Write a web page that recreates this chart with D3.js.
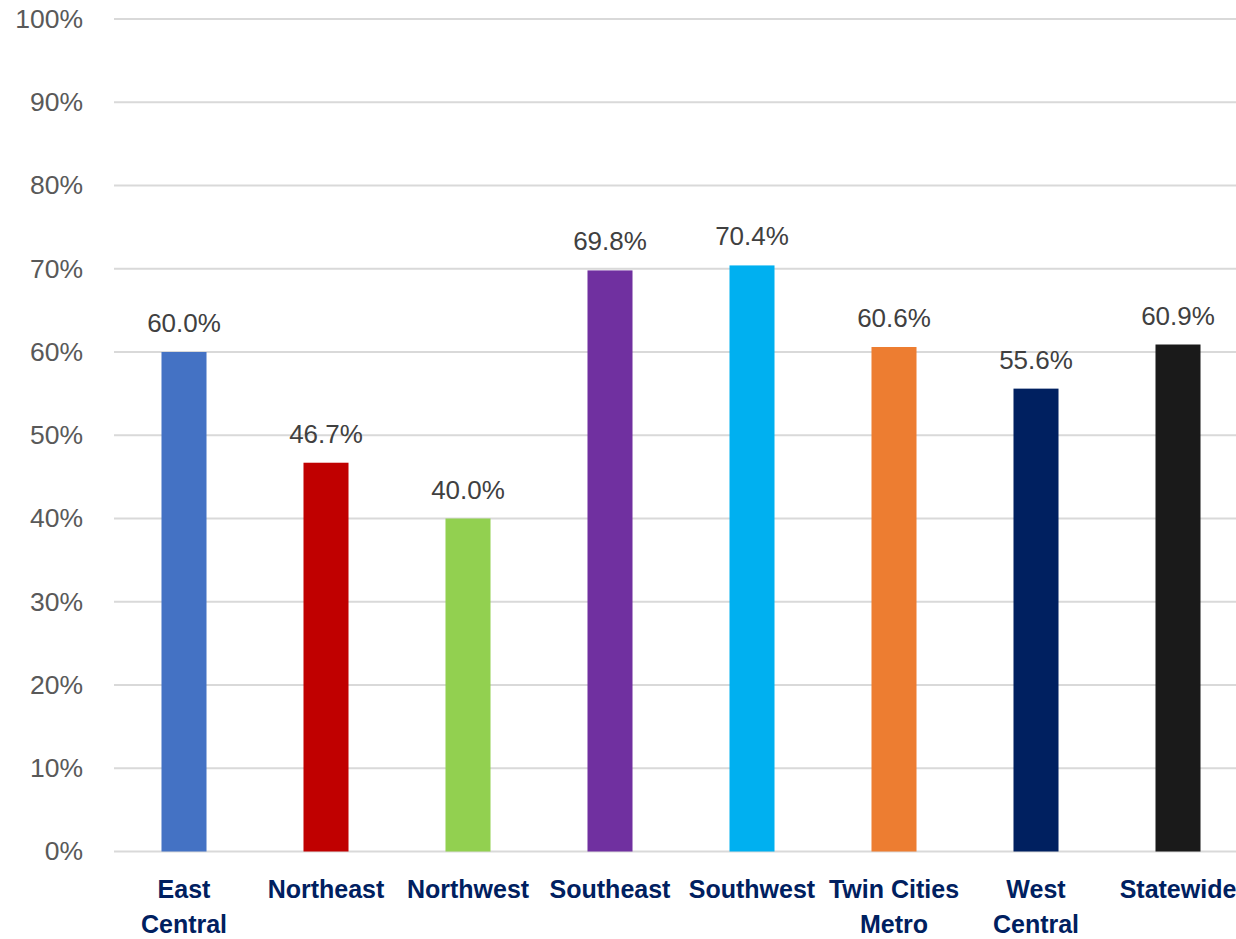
<!DOCTYPE html>
<html>
<head>
<meta charset="utf-8">
<script src="https://cdn.jsdelivr.net/npm/d3@7"></script>
<style>
  html, body { margin: 0; padding: 0; background: #fff; }
  svg { display: block; font-family: "Liberation Sans", Arial, sans-serif; }
</style>
</head>
<body>
<svg id="chart" width="1236" height="939"></svg>
<script>
// Share of respondents by region
const categories = [["East", "Central"], ["Northeast"], ["Northwest"], ["Southeast"], ["Southwest"], ["Twin Cities", "Metro"], ["West", "Central"], ["Statewide"]];
const values = [60.0, 46.7, 40.0, 69.8, 70.4, 60.6, 55.6, 60.9];
const colors = ["#4472C4", "#C00000", "#92D050", "#7030A0", "#00B0F0", "#ED7D31", "#002060", "#1A1A1A"];
const yTicks = [0, 10, 20, 30, 40, 50, 60, 70, 80, 90, 100];

const svg = d3.select("#chart");
const keys = categories.map(c => c.join(" "));

const x = d3.scaleBand()
  .domain(keys)
  .range([113, 1249])
  .paddingInner(0.683)
  .paddingOuter(0.3415);

const y = d3.scaleLinear().domain([0, 100]).range([851.5, 19]);

// Gridlines
svg.append("g")
  .selectAll("line")
  .data(yTicks)
  .join("line")
  .attr("x1", 114)
  .attr("x2", 1236)
  .attr("y1", d => y(d))
  .attr("y2", d => y(d))
  .attr("stroke", "#D9D9D9")
  .attr("stroke-width", 2);

// Y axis labels
const yAxis = d3.axisLeft(y).tickValues(yTicks).tickFormat(d => d + "%").tickSize(0).tickPadding(0);
const yg = svg.append("g").attr("transform", "translate(83,0)").call(yAxis);
yg.select(".domain").remove();
yg.selectAll("text")
  .attr("fill", "#595959")
  .style("font-size", "26.5px")
  .style("font-family", "'Liberation Sans', Arial, sans-serif");

// Bars
svg.append("g")
  .selectAll("rect")
  .data(values)
  .join("rect")
  .attr("x", (d, i) => x(keys[i]))
  .attr("width", x.bandwidth())
  .attr("y", d => y(d))
  .attr("height", d => y(0) - y(d))
  .attr("fill", (d, i) => colors[i]);

// Value labels
svg.append("g")
  .selectAll("text")
  .data(values)
  .join("text")
  .attr("x", (d, i) => x(keys[i]) + x.bandwidth() / 2)
  .attr("y", d => y(d) - 20)
  .attr("text-anchor", "middle")
  .attr("fill", "#404040")
  .style("font-size", "26px")
  .text(d => d.toFixed(1) + "%");

// Category labels
const cat = svg.append("g")
  .selectAll("text")
  .data(categories)
  .join("text")
  .attr("x", (d, i) => x(keys[i]) + x.bandwidth() / 2)
  .attr("y", 898)
  .attr("text-anchor", "middle")
  .attr("fill", "#002060")
  .style("font-size", "25px")
  .style("font-weight", "bold");
cat.selectAll("tspan")
  .data(d => d)
  .join("tspan")
  .attr("x", function () { return d3.select(this.parentNode).attr("x"); })
  .attr("dy", (d, i) => i === 0 ? 0 : 35)
  .text(d => d);
</script>
</body>
</html>
